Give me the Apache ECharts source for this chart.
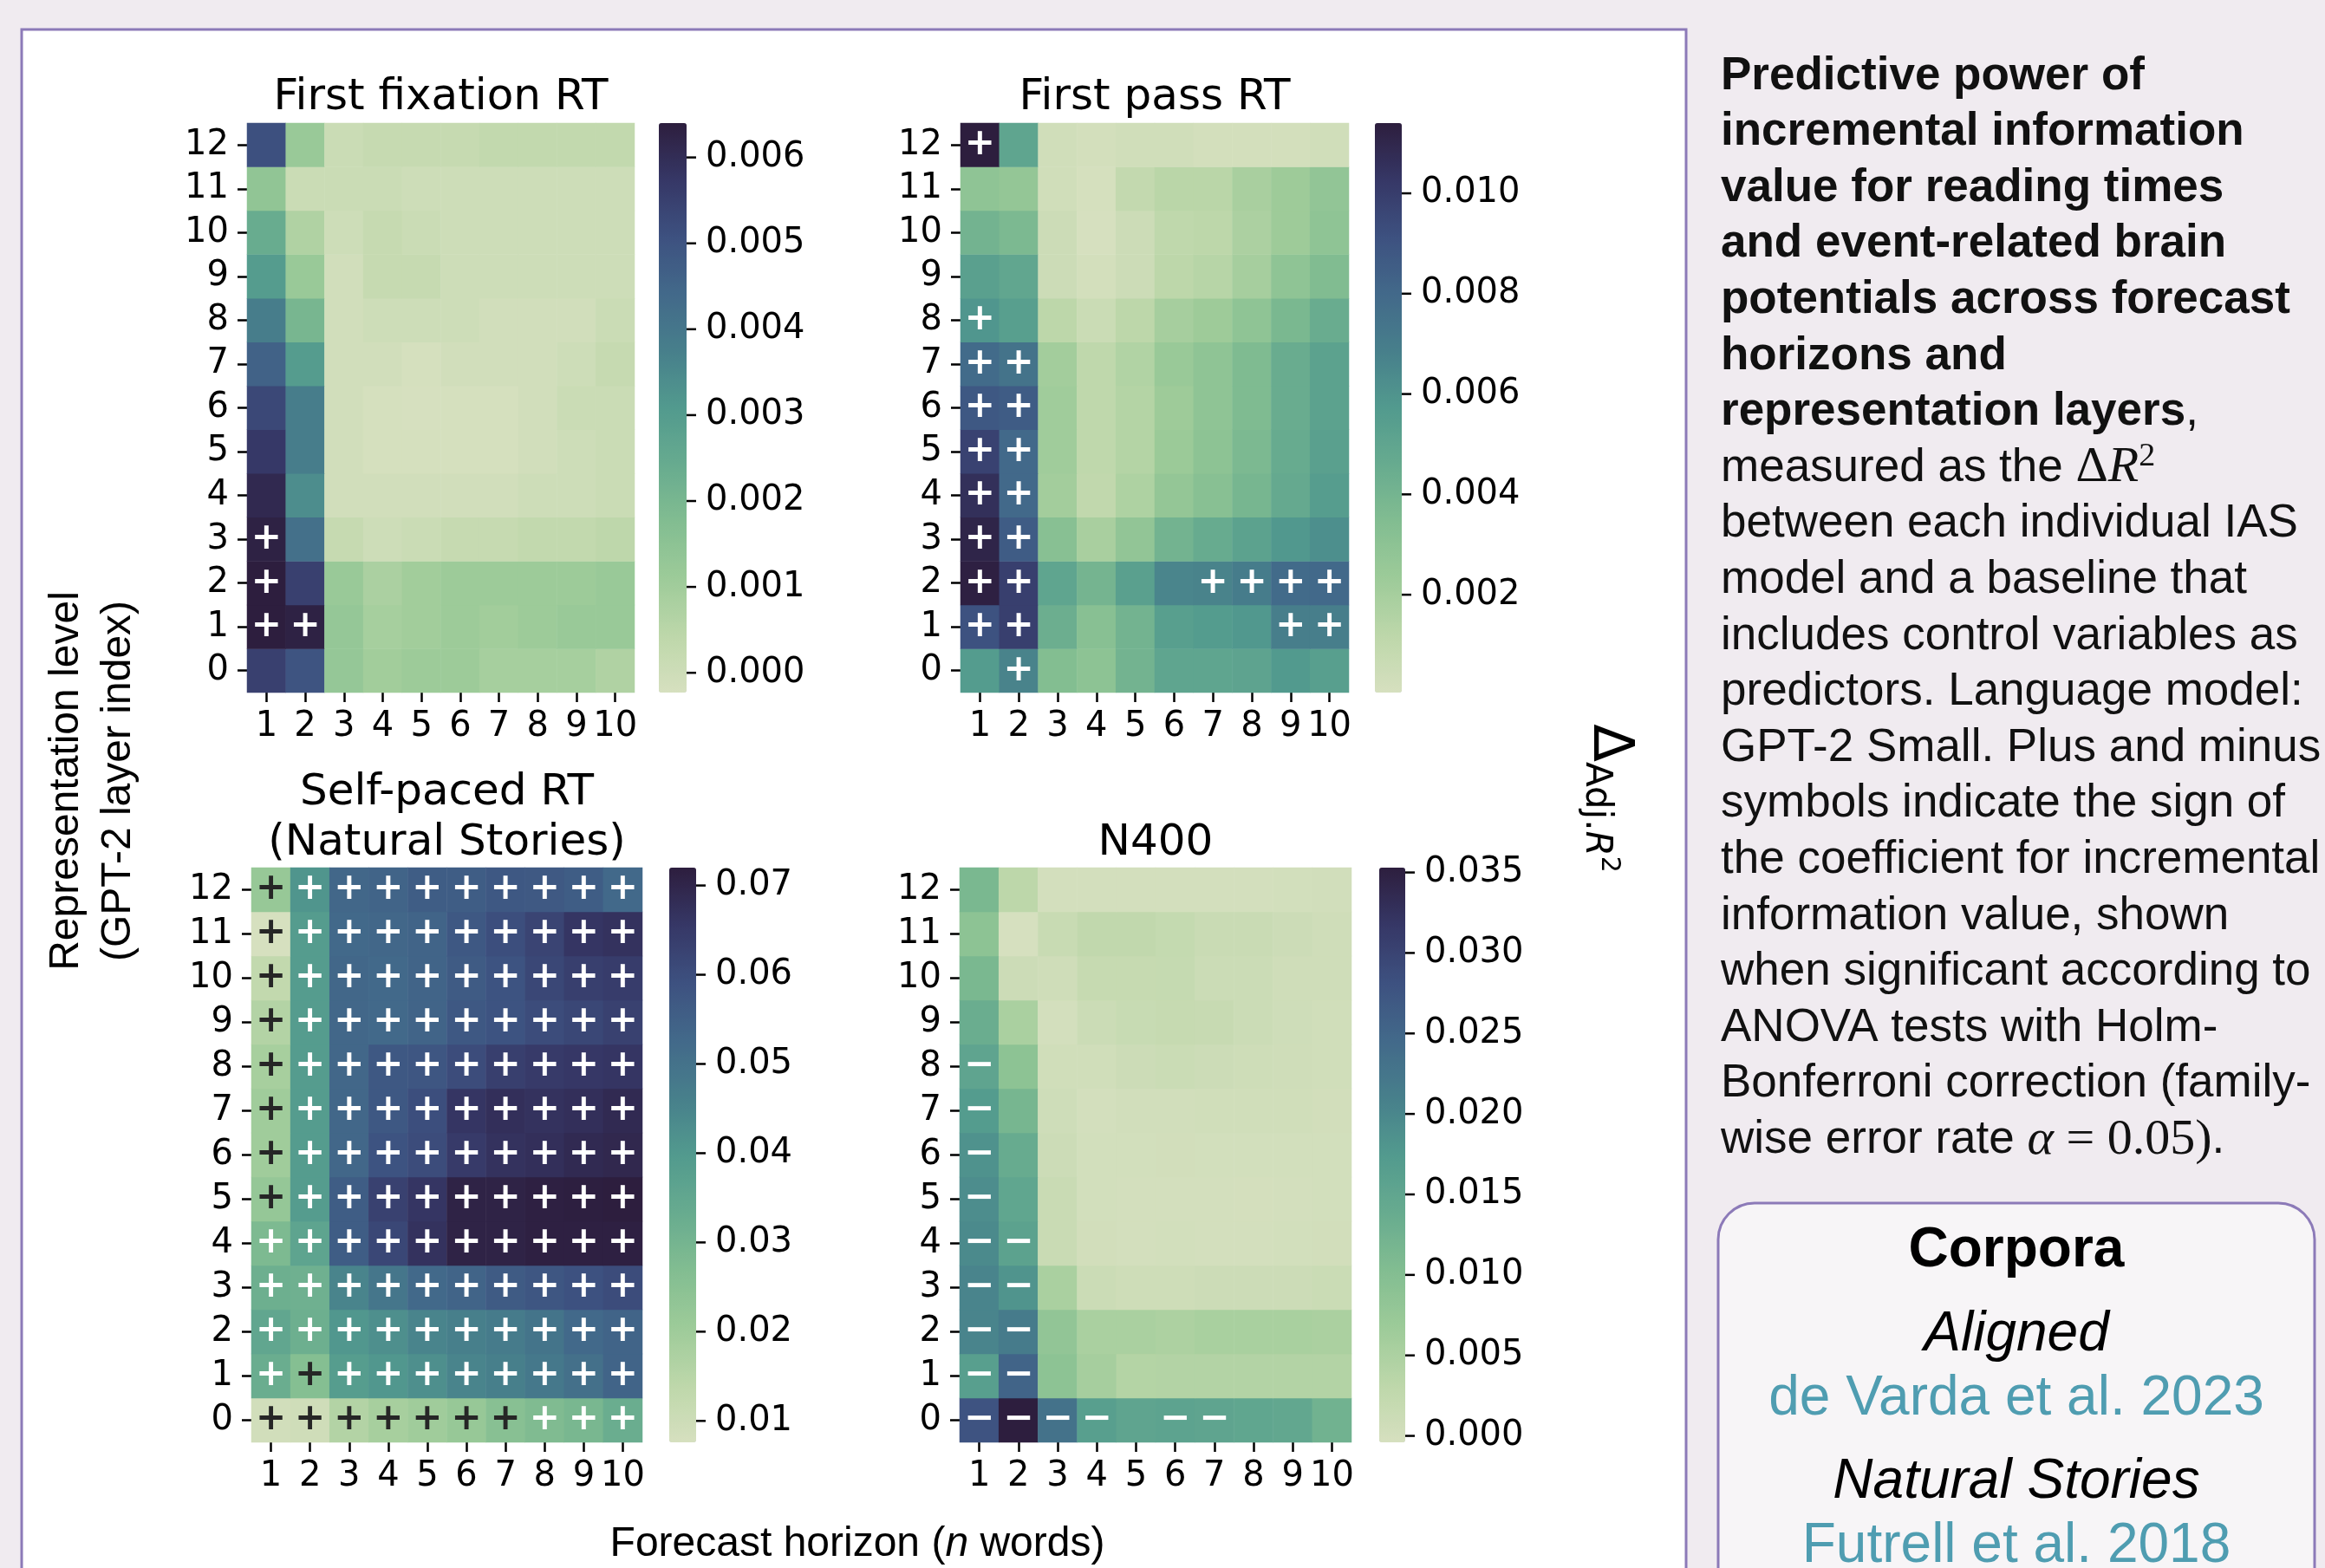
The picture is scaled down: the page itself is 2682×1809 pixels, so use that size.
<!DOCTYPE html>
<html><head><meta charset="utf-8">
<script src="https://cdn.jsdelivr.net/npm/echarts@6/dist/echarts.min.js"></script>
<style>html,body{margin:0;padding:0;background:#f0ebf0;} #c{width:2682px;height:1809px;}</style>
</head><body><div id="c"></div>
<script>
// ---------------- DATA ----------------
const horizonLabels = ['1','2','3','4','5','6','7','8','9','10'];
const layerLabels = ['0','1','2','3','4','5','6','7','8','9','10','11','12'];

// rows: layer 0 ... layer 12 ; columns: horizon 1 ... 10
const firstFixation = [
  [0.0055, 0.0050, 0.0013, 0.0010, 0.0011, 0.0011, 0.0009, 0.0009, 0.0009, 0.0007],
  [0.0064, 0.0063, 0.0013, 0.0009, 0.0010, 0.0011, 0.0010, 0.0011, 0.0012, 0.0012],
  [0.0064, 0.0055, 0.0012, 0.0008, 0.0010, 0.0011, 0.0011, 0.0011, 0.0011, 0.0012],
  [0.0063, 0.0042, 0.0002, 0.0000, 0.0001, 0.0002, 0.0002, 0.0003, 0.0003, 0.0004],
  [0.0061, 0.0034, -0.0001, -0.0001, -0.0001, -0.0001, -0.0001, 0.0000, 0.0000, 0.0001],
  [0.0057, 0.0038, -0.0001, -0.0002, -0.0002, -0.0002, -0.0002, -0.0001, 0.0000, 0.0001],
  [0.0053, 0.0038, -0.0001, -0.0002, -0.00023, -0.0002, -0.0002, -0.0001, 0.0001, 0.0001],
  [0.0046, 0.0030, -0.0001, -0.0001, -0.0002, -0.0001, -0.0001, -0.0001, 0.0000, 0.0002],
  [0.0038, 0.0020, -0.0001, 0.0000, 0.0000, 0.0000, -0.0001, -0.0001, -0.0001, 0.0001],
  [0.0030, 0.0012, -0.0001, 0.0002, 0.0002, 0.0000, 0.0000, 0.0000, 0.0000, 0.0000],
  [0.0024, 0.0007, 0.0000, 0.0002, 0.0001, 0.0000, 0.0000, 0.0000, 0.0000, 0.0000],
  [0.0014, 0.0001, 0.0001, 0.0001, 0.0000, 0.0000, 0.0000, 0.0000, 0.0000, 0.0000],
  [0.0051, 0.0012, 0.0001, 0.0002, 0.0002, 0.0002, 0.0003, 0.0003, 0.0003, 0.0003]
];
const firstFixationSigns = [
  '..........','++........','+.........','+.........','..........','..........','..........',
  '..........','..........','..........','..........','..........','..........'
];

const firstPass = [
  [0.0056, 0.0067, 0.0034, 0.0030, 0.0041, 0.0050, 0.0050, 0.0051, 0.0057, 0.0054],
  [0.0091, 0.0099, 0.0044, 0.0032, 0.0041, 0.0054, 0.0056, 0.0058, 0.0069, 0.0069],
  [0.0113, 0.0099, 0.0050, 0.0040, 0.0053, 0.0066, 0.0067, 0.0070, 0.0079, 0.0080],
  [0.0111, 0.0086, 0.0032, 0.0019, 0.0028, 0.0041, 0.0046, 0.0052, 0.0058, 0.0062],
  [0.0106, 0.0080, 0.0021, 0.0010, 0.0017, 0.0027, 0.0032, 0.0039, 0.0047, 0.0055],
  [0.0098, 0.0080, 0.0022, 0.0011, 0.0015, 0.0024, 0.0030, 0.0037, 0.0046, 0.0053],
  [0.0088, 0.0086, 0.0022, 0.0011, 0.0015, 0.0023, 0.0029, 0.0036, 0.0045, 0.0052],
  [0.0079, 0.0075, 0.0021, 0.0011, 0.0016, 0.0025, 0.0029, 0.0036, 0.0045, 0.0052],
  [0.0059, 0.0054, 0.0012, 0.0006, 0.0012, 0.0020, 0.0023, 0.0029, 0.0038, 0.0045],
  [0.0053, 0.0049, 0.0005, 0.0002, 0.0005, 0.0012, 0.0014, 0.0020, 0.0029, 0.0035],
  [0.0041, 0.0037, 0.0005, 0.00005, 0.0005, 0.0011, 0.0012, 0.0018, 0.0023, 0.0029],
  [0.0029, 0.0027, 0.0003, 0.0001, 0.0009, 0.0013, 0.0013, 0.0019, 0.0023, 0.0028],
  [0.0114, 0.0050, 0.0003, 0.0002, 0.0003, 0.0003, 0.0002, 0.0002, 0.0002, 0.0003]
];
const firstPassSigns = [
  '.+........','++......++','++....++++','++........','++........','++........','++........',
  '++........','+.........','..........','..........','..........','+.........'
];

const selfPaced = [
  [0.0089, 0.0095, 0.0160, 0.0185, 0.0198, 0.0218, 0.0255, 0.0275, 0.0290, 0.0327],
  [0.0327, 0.0262, 0.0385, 0.0404, 0.0424, 0.0450, 0.0462, 0.0482, 0.0507, 0.0540],
  [0.0353, 0.0320, 0.0404, 0.0424, 0.0450, 0.0462, 0.0475, 0.0495, 0.0527, 0.0540],
  [0.0320, 0.0314, 0.0450, 0.0488, 0.0527, 0.0540, 0.0565, 0.0578, 0.0591, 0.0604],
  [0.0280, 0.0360, 0.0560, 0.0617, 0.0668, 0.0707, 0.0707, 0.0714, 0.0714, 0.0714],
  [0.0224, 0.0390, 0.0560, 0.0630, 0.0660, 0.0707, 0.0707, 0.0714, 0.0717, 0.0720],
  [0.0198, 0.0390, 0.0533, 0.0585, 0.0604, 0.0649, 0.0668, 0.0675, 0.0688, 0.0694],
  [0.0198, 0.0390, 0.0533, 0.0572, 0.0598, 0.0660, 0.0675, 0.0668, 0.0675, 0.0688],
  [0.0185, 0.0390, 0.0533, 0.0572, 0.0578, 0.0604, 0.0636, 0.0649, 0.0656, 0.0660],
  [0.0160, 0.0390, 0.0533, 0.0527, 0.0540, 0.0572, 0.0585, 0.0604, 0.0617, 0.0630],
  [0.0128, 0.0390, 0.0533, 0.0527, 0.0540, 0.0565, 0.0585, 0.0617, 0.0636, 0.0643],
  [0.0076, 0.0390, 0.0527, 0.0533, 0.0540, 0.0572, 0.0598, 0.0623, 0.0660, 0.0668],
  [0.0218, 0.0410, 0.0533, 0.0540, 0.0560, 0.0560, 0.0572, 0.0570, 0.0560, 0.0527]
];
const selfPacedSigns = [
  '++++++++++','++++++++++','++++++++++','++++++++++','++++++++++','++++++++++','++++++++++',
  '++++++++++','++++++++++','++++++++++','++++++++++','++++++++++','++++++++++'
];

const n400 = [
  [0.0278, 0.0353, 0.0232, 0.0164, 0.0153, 0.0155, 0.0153, 0.0150, 0.0148, 0.0125],
  [0.0164, 0.0253, 0.0089, 0.0057, 0.0042, 0.0043, 0.0043, 0.0043, 0.0043, 0.0043],
  [0.0203, 0.0217, 0.0082, 0.0053, 0.0053, 0.0050, 0.0054, 0.0054, 0.0054, 0.0052],
  [0.0203, 0.0182, 0.0053, 0.0012, 0.0008, 0.0008, 0.0010, 0.0010, 0.0010, 0.0013],
  [0.0196, 0.0157, 0.0014, 0.0002, 0.0000, 0.0001, 0.0000, 0.0000, 0.0001, 0.0002],
  [0.0192, 0.0150, 0.0014, 0.0001, 0.0000, 0.0000, 0.0000, -0.0001, 0.0000, 0.0001],
  [0.0185, 0.0139, 0.0010, 0.0001, 0.0001, 0.0002, 0.0001, 0.0001, 0.0001, 0.0001],
  [0.0171, 0.0117, 0.0007, 0.0000, 0.0003, 0.0003, 0.0004, 0.0004, 0.0004, 0.0002],
  [0.0153, 0.0089, 0.0004, 0.0005, 0.0010, 0.0013, 0.0010, 0.0008, 0.0006, 0.0004],
  [0.0135, 0.0053, 0.0000, 0.0012, 0.0017, 0.0019, 0.0018, 0.0012, 0.0007, 0.0004],
  [0.0114, 0.0010, 0.0006, 0.0019, 0.0019, 0.0020, 0.0012, 0.0012, 0.0006, 0.0006],
  [0.0089, -0.0004, 0.0016, 0.0026, 0.0026, 0.0021, 0.0014, 0.0014, 0.0010, 0.0006],
  [0.0114, 0.0032, 0.0000, 0.0000, 0.0000, 0.0000, 0.0000, 0.0000, 0.0001, 0.0003]
];
const n400Signs = [
  '----.--...','--........','--........','--........','--........','-.........','-.........',
  '-.........','-.........','..........','..........','..........','..........'
];

// colorbar tick labels
const ticksFirstFixation = ['0.000','0.001','0.002','0.003','0.004','0.005','0.006'];
const ticksFirstPass = ['0.002','0.004','0.006','0.008','0.010'];
const ticksSelfPaced = ['0.01','0.02','0.03','0.04','0.05','0.06','0.07'];
const ticksN400 = ['0.000','0.005','0.010','0.015','0.020','0.025','0.030','0.035'];

const captionLines = [
  '{b|Predictive power of}',
  '{b|incremental information}',
  '{b|value for reading times}',
  '{b|and event-related brain}',
  '{b|potentials across forecast}',
  '{b|horizons and}',
  '{b|representation layers},',
  'measured as the {m|Δ}{mi|R}{sup|2}',
  'between each individual IAS',
  'model and a baseline that',
  'includes control variables as',
  'predictors. Language model:',
  'GPT-2 Small. Plus and minus',
  'symbols indicate the sign of',
  'the coefficient for incremental',
  'information value, shown',
  'when significant according to',
  'ANOVA tests with Holm-',
  'Bonferroni correction (family-',
  'wise error rate {mi|α} {m|= 0.05)}.'
];

// ---------------- STYLE / LAYOUT ----------------
const cmap = ['#d6e0bf','#bdd7aa','#9dcb99','#82bd91','#67ab8f','#529a8e','#477f8b','#42698a','#3d5180','#363766','#2d1e3e'];
const FONT = 'DejaVu Sans';
const SANS = 'Liberation Sans, Arial, sans-serif';
const SERIF = 'Liberation Serif, DejaVu Serif, serif';
const TICK_FS = 40;

const panels = [
  {title:['First fixation RT'], titleY:[113], values:firstFixation, signs:firstFixationSigns, ticks:ticksFirstFixation,
   hm:{left:285, top:142, width:447, height:657}, cbLeft:760, cbWidth:32},
  {title:['First pass RT'], titleY:[113], values:firstPass, signs:firstPassSigns, ticks:ticksFirstPass,
   hm:{left:1108, top:142, width:448, height:657}, cbLeft:1586, cbWidth:31},
  {title:['Self-paced RT','(Natural Stories)'], titleY:[915,973], values:selfPaced, signs:selfPacedSigns, ticks:ticksSelfPaced,
   hm:{left:290, top:1001, width:451, height:663}, cbLeft:772, cbWidth:31},
  {title:['N400'], titleY:[973], values:n400, signs:n400Signs, ticks:ticksN400,
   hm:{left:1107, top:1001, width:452, height:663}, cbLeft:1591, cbWidth:30}
];

const grids = [], xAxes = [], yAxes = [], series = [], visualMaps = [], graphics = [];

graphics.push({type:'rect', z:-10, shape:{x:25, y:34, width:1920, height:1860},
  style:{fill:'#ffffff', stroke:'#8c7ab8', lineWidth:3}});
graphics.push({type:'rect', z:-10, shape:{x:1982, y:1388, width:688, height:520, r:42},
  style:{fill:'#f7f5f7', stroke:'#8c7ab8', lineWidth:3}});

const tickStyle = {color:'#000', width:2.5};

panels.forEach((p, i) => {
  const flat = p.values.flat();
  const vmin = Math.min(...flat), vmax = Math.max(...flat);
  const gHm = grids.length;
  grids.push({left:p.hm.left, top:p.hm.top, width:p.hm.width, height:p.hm.height, containLabel:false, outerBoundsMode:'none'});
  const gCb = grids.length;
  grids.push({left:p.cbLeft, top:p.hm.top, width:p.cbWidth, height:p.hm.height, containLabel:false, outerBoundsMode:'none'});

  xAxes.push({type:'category', gridIndex:gHm, data:horizonLabels,
    axisLine:{show:false}, splitLine:{show:false},
    axisTick:{show:true, alignWithLabel:true, interval:0, length:11, lineStyle:tickStyle},
    axisLabel:{interval:0, fontSize:TICK_FS, fontFamily:FONT, color:'#000', margin:20}});
  yAxes.push({type:'category', gridIndex:gHm, data:layerLabels,
    axisLine:{show:false}, splitLine:{show:false},
    axisTick:{show:true, alignWithLabel:true, interval:0, length:11, lineStyle:tickStyle},
    axisLabel:{interval:0, fontSize:TICK_FS, fontFamily:FONT, color:'#000', margin:21}});

  const tickNums = p.ticks.map(Number);
  xAxes.push({type:'value', gridIndex:gCb, show:false, min:0, max:1});
  yAxes.push({type:'value', gridIndex:gCb, min:vmin, max:vmax, position:'right',
    axisLine:{show:false}, splitLine:{show:false},
    axisTick:{show:false},
    axisLabel:{fontSize:TICK_FS, fontFamily:FONT, color:'#000', margin:0, customValues:tickNums,
      rich:{
        tk:{width:11, height:2.5, backgroundColor:'#000', verticalAlign:'middle'},
        g:{width:11, height:2}
      },
      formatter:(v)=>{let best=0;tickNums.forEach((t,k)=>{if(Math.abs(t-v)<Math.abs(tickNums[best]-v))best=k;});return '{tk|}{g|}' + p.ticks[best];}}});

  const data = [];
  p.values.forEach((row, l) => {
    row.forEach((v, c) => {
      const s = p.signs[l][c];
      const t = (v - vmin) / (vmax - vmin);
      const item = {value:[c, l, v]};
      if (s === '+' || s === '-') {
        item.label = {show:true, formatter: s === '+' ? '+' : '\u2212',
          color: t > 0.295 ? '#ffffff' : '#262626'};
      }
      data.push(item);
    });
  });
  const sIdx = series.length;
  series.push({type:'heatmap', xAxisIndex:2*i, yAxisIndex:2*i, data,
    label:{show:false, fontSize:42, fontWeight:'bold', fontFamily:FONT},
    itemStyle:{borderWidth:0}, emphasis:{disabled:true}, progressive:0});
  series.push({type:'line', xAxisIndex:2*i+1, yAxisIndex:2*i+1, data:[], silent:true});

  visualMaps.push({type:'continuous', seriesIndex:sIdx, min:vmin, max:vmax, dimension:2,
    inRange:{color:cmap}, calculable:false, hoverLink:false, show:true, orient:'vertical',
    left:p.cbLeft, top:p.hm.top, itemWidth:p.cbWidth, itemHeight:p.hm.height, padding:0, text:null});

  const cx = p.hm.left + p.hm.width / 2;
  p.title.forEach((t, k) => {
    graphics.push({type:'text', x:cx, y:p.titleY[k], z:10,
      style:{text:t, fontSize:50, fontFamily:FONT, fill:'#000', textAlign:'center', textVerticalAlign:'middle', align:'center', verticalAlign:'middle'}});
  });
});

// shared axis labels
graphics.push({type:'text', x:107, y:901, rotation:Math.PI/2, z:10,
  style:{text:'Representation level\n(GPT-2 layer index)', fontSize:48, lineHeight:60, fontFamily:SANS, fill:'#000',
    textAlign:'center', textVerticalAlign:'middle', align:'center', verticalAlign:'middle'}});
graphics.push({type:'text', x:989, y:1782, z:10,
  style:{text:'Forecast horizon ({i|n} words)', fontSize:48, fontFamily:SANS, fill:'#000',
    textAlign:'center', textVerticalAlign:'middle', align:'center', verticalAlign:'middle',
    rich:{i:{fontSize:48, fontFamily:SANS, fontStyle:'italic', fill:'#000'}}}});
graphics.push({type:'text', x:1856, y:921, rotation:-Math.PI/2, z:10,
  style:{text:'{d|Δ}{s|Adj.}{si|R}{ss|2}', fontFamily:FONT, fill:'#000',
    textAlign:'center', textVerticalAlign:'middle', align:'center', verticalAlign:'middle',
    rich:{
      d:{fontSize:64, lineHeight:72, fontFamily:FONT, fill:'#000'},
      s:{fontSize:42, lineHeight:42, verticalAlign:'bottom', fontFamily:FONT, fill:'#000'},
      si:{fontSize:42, lineHeight:42, verticalAlign:'bottom', fontStyle:'italic', fontFamily:FONT, fill:'#000'},
      ss:{fontSize:30, lineHeight:40, verticalAlign:'middle', fontFamily:FONT, fill:'#000'}
    }}});

// caption
captionLines.forEach((line, k) => {
  graphics.push({type:'text', x:1985, y:88 + k * 64.6, z:10,
    style:{text:line, fontSize:53, lineHeight:64, fontFamily:SANS, fill:'#111',
      textAlign:'left', textVerticalAlign:'middle', align:'left', verticalAlign:'middle',
      rich:{
        b:{fontSize:53, lineHeight:64, fontWeight:'bold', fontFamily:SANS, fill:'#111'},
        m:{fontSize:58, lineHeight:64, fontFamily:SERIF, fill:'#111'},
        mi:{fontSize:58, lineHeight:64, fontFamily:SERIF, fontStyle:'italic', fill:'#111'},
        sup:{fontSize:38, lineHeight:30, verticalAlign:'top', fontFamily:SERIF, fill:'#111'}
      }}});
});

// corpora box
const corporaLines = [
  {t:'Corpora', y:1443, w:'bold', s:'normal', c:'#000'},
  {t:'Aligned', y:1540, w:'normal', s:'italic', c:'#000'},
  {t:'de Varda et al. 2023', y:1614, w:'normal', s:'normal', c:'#4f9db1'},
  {t:'Natural Stories', y:1710, w:'normal', s:'italic', c:'#000'},
  {t:'Futrell et al. 2018', y:1784, w:'normal', s:'normal', c:'#4f9db1'}
];
corporaLines.forEach(o => {
  graphics.push({type:'text', x:2326, y:o.y, z:10,
    style:{text:o.t, fontSize:64, fontWeight:o.w, fontStyle:o.s, fontFamily:SANS, fill:o.c,
      textAlign:'center', textVerticalAlign:'middle', align:'center', verticalAlign:'middle'}});
});

const chart = echarts.init(document.getElementById('c'), null, {renderer:'canvas'});
chart.setOption({
  animation:false,
  backgroundColor:'#f0ebf0',
  grid:grids, xAxis:xAxes, yAxis:yAxes, series, visualMap:visualMaps,
  graphic:{elements:graphics}
});
</script>
</body></html>
